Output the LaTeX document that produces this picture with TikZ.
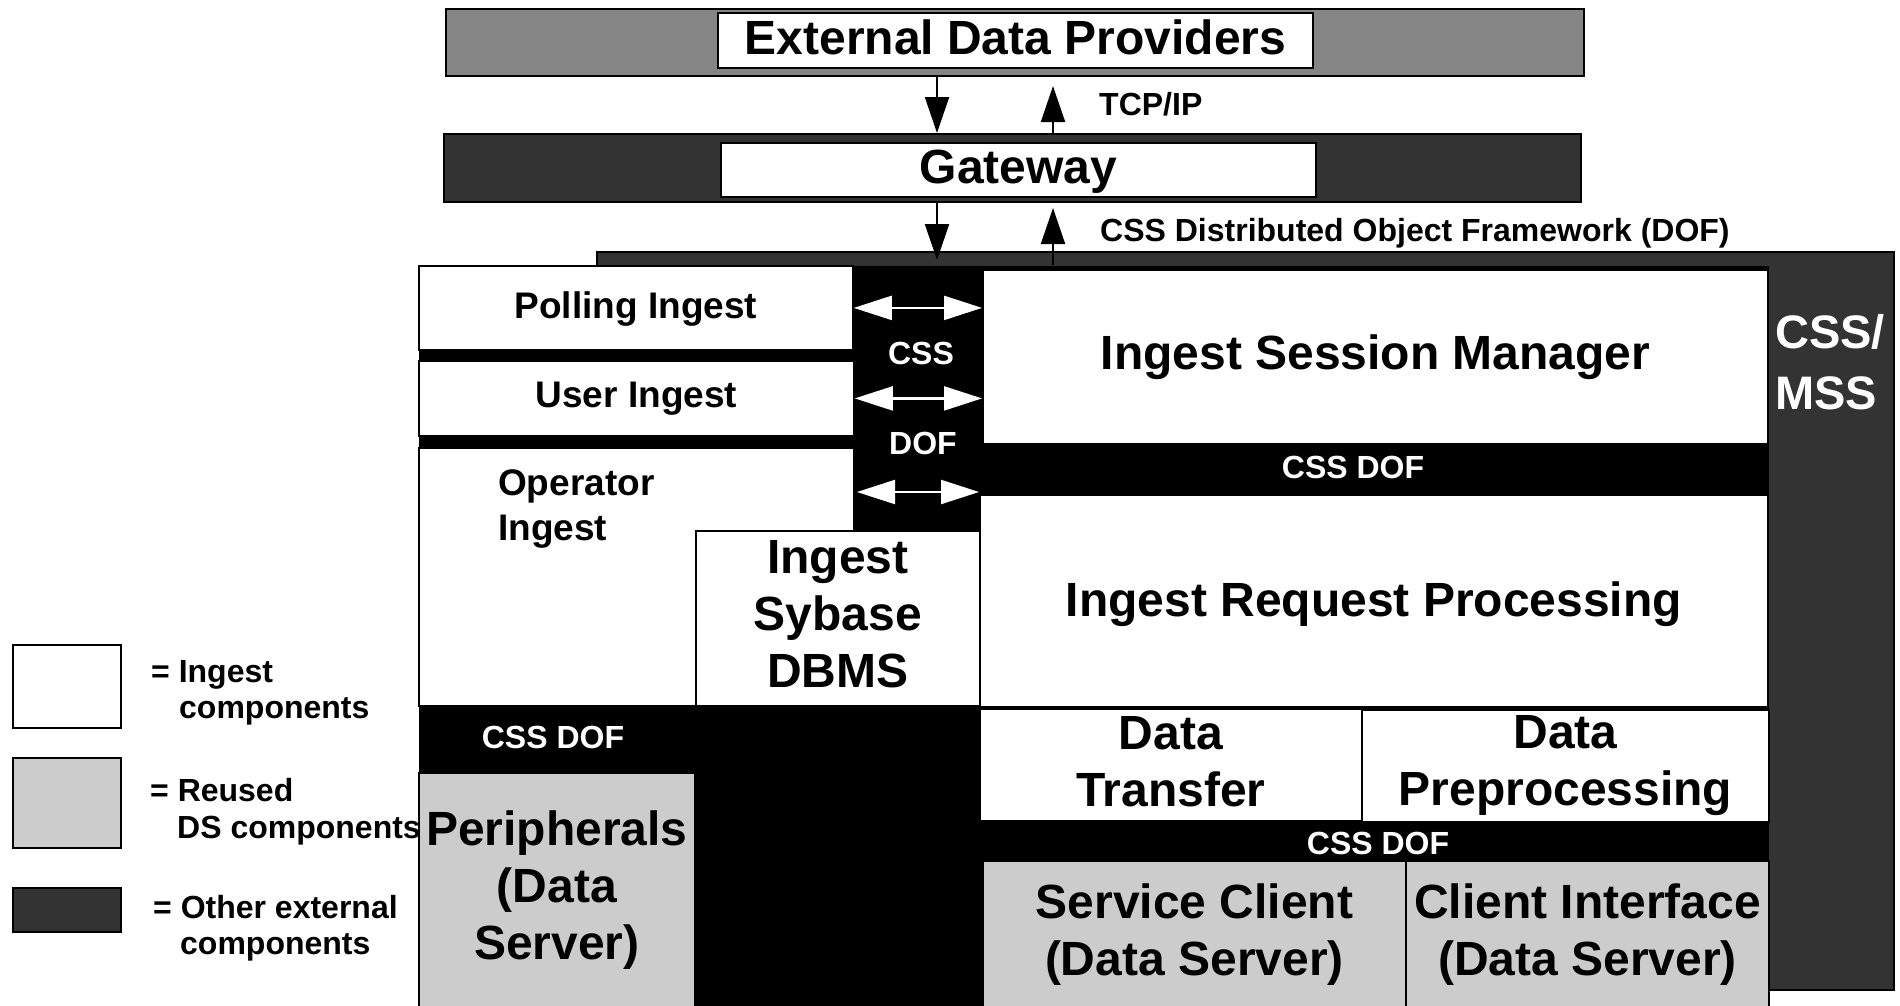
\documentclass[tikz,border=0pt]{standalone}
\usepackage{fontspec}
\setmainfont{Liberation Sans}
\usetikzlibrary{arrows.meta}
\definecolor{provgray}{HTML}{858585}
\definecolor{extdark}{HTML}{333333}
\definecolor{reusegray}{HTML}{CCCCCC}
\begin{document}
\begin{tikzpicture}[x=1pt,y=-1pt,
  boxbase/.style={draw=black, line width=1.8pt, inner sep=0pt, anchor=north west, align=center},
  wbox/.style={boxbase, fill=white},
  gbox/.style={boxbase, fill=reusegray},
  dbox/.style={boxbase, fill=extdark},
  fhead/.style={font=\bfseries\fontsize{48}{56}\selectfont},
  fbig/.style={font=\bfseries\fontsize{48}{57}\selectfont},
  fmid/.style={font=\bfseries\fontsize{37}{45}\selectfont},
  fsmall/.style={font=\bfseries\fontsize{32}{37}\selectfont},
  flegend/.style={font=\bfseries\fontsize{32}{36}\selectfont},
  fside/.style={font=\bfseries\fontsize{47}{60}\selectfont},
  lbl/.style={inner sep=0pt, align=center},
  blkarrow/.style={draw=black, line width=2pt, -{Triangle[length=36pt,width=24pt]}},
  wharrow/.style={draw=white, line width=2.2pt,
    {Triangle[length=38pt,width=24pt,fill=white]}-{Triangle[length=38pt,width=24pt,fill=white]}},
]
\useasboundingbox (0,0) rectangle (1900,1005);
\fill[white] (0,0) rectangle (1900,1005);

% external data providers and gateway layers
\node[boxbase, fill=provgray, minimum width=1138pt, minimum height=67pt] (provbar) at (445,8) {};
\node[wbox, minimum width=595pt, minimum height=55pt] (edp) at (717,12) {};
\node[lbl, fhead, yshift=3.5pt] (edpt) at (edp.center) {External Data Providers};
\node[dbox, minimum width=1137pt, minimum height=68pt] (gwbar) at (443,133) {};
\node[wbox, minimum width=595pt, minimum height=54pt] (gw) at (720,142) {};
\node[lbl, fhead, yshift=-1.5pt] (gwt) at (gw.center) {Gateway};

% CSS/MSS layer behind the ingest subsystem
\node[dbox, minimum width=1297pt, minimum height=738pt] (panel) at (596,251) {};
\node[lbl, fside, text=white, anchor=base west] (sidea) at (1775,348) {CSS/};
\node[lbl, fside, text=white, anchor=base west] (sideb) at (1775,409) {MSS};

% CSS DOF backbone
\node[boxbase, draw=none, fill=black, minimum width=1350pt, minimum height=745pt] (dof) at (418,265) {};

% ingest components
\node[wbox, minimum width=434pt, minimum height=84pt] (poll) at (418,265) {};
\node[lbl, fmid, yshift=-1.5pt] (pollt) at (poll.center) {Polling Ingest};
\node[wbox, minimum width=435pt, minimum height=75pt] (user) at (418,360) {};
\node[lbl, fmid] (usert) at (user.center) {User Ingest};
\node[wbox, minimum width=435pt, minimum height=258pt] (oper) at (418,447) {};
\node[lbl, fmid, anchor=base west] (opla) at (498,495) {Operator};
\node[lbl, fmid, anchor=base west] (oplb) at (498,540) {Ingest};
\node[wbox, minimum width=284pt, minimum height=175pt] (dbms) at (695,530) {};
\node[lbl, fbig, yshift=4.5pt] (dbmst) at (dbms.center) {Ingest\\Sybase\\DBMS};
\node[wbox, minimum width=785pt, minimum height=174pt] (ism) at (982,269) {};
\node[lbl, fbig] (ismt) at (ism.center) {Ingest Session Manager};
\node[wbox, minimum width=788pt, minimum height=212pt] (irp) at (979,494) {};
\node[lbl, fbig, yshift=-3.5pt] (irpt) at (irp.center) {Ingest Request Processing};
\node[wbox, minimum width=382pt, minimum height=112pt] (xfer) at (979,708) {};
\node[lbl, fbig, yshift=3.5pt] (xfert) at (xfer.center) {Data\\Transfer};
\node[wbox, minimum width=407pt, minimum height=112pt] (prep) at (1361,709) {};
\node[lbl, fbig] (prept) at (prep.center) {Data\\Preprocessing};

% reused data server components
\node[gbox, minimum width=423pt, minimum height=147pt] (svc) at (982,860) {};
\node[lbl, fbig] (svct) at (svc.center) {Service Client\\(Data Server)};
\node[gbox, minimum width=363pt, minimum height=147pt] (cli) at (1405,860) {};
\node[lbl, fbig] (clit) at (cli.center) {Client Interface\\(Data Server)};
\node[gbox, minimum width=276pt, minimum height=235pt] (peri) at (418,772) {};
\node[lbl, fbig] (perit) at (peri.center) {Peripherals\\(Data\\Server)};

% labels on the black backbone
\node[lbl, fsmall, text=white] (csscol) at (921,353) {CSS};
\node[lbl, fsmall, text=white] (dofcol) at (923,443) {DOF};
\node[lbl, fsmall, text=white] (dofa) at (1353,467) {CSS DOF};
\node[lbl, fsmall, text=white] (dofb) at (1378,843) {CSS DOF};
\node[lbl, fsmall, text=white] (dofc) at (553,737) {CSS DOF};

% CSS DOF links between ingest components
\coordinate (linkc) at (857,492);
\draw[wharrow] (poll.east) -- (poll.east -| ism.west);
\draw[wharrow] (user.east) -- (user.east -| ism.west);
\draw[wharrow] (linkc) -- (linkc -| irp.west);

% TCP/IP and DOF links through the gateway
\coordinate (dnx) at (937,0);
\coordinate (upx) at (1053,0);
\coordinate (uptipa) at (1053,86);
\coordinate (dntipb) at (937,260);
\coordinate (upbase) at (1053,265);
\coordinate (uptipb) at (1053,208);
\draw[blkarrow] (provbar.south -| dnx) -- (gwbar.north -| dnx);
\draw[blkarrow] (gwbar.north -| upx) -- (uptipa);
\draw[blkarrow] (gwbar.south -| dnx) -- (dntipb);
\draw[blkarrow] (upbase) -- (uptipb);
\node[lbl, fsmall, anchor=base west] (tcp) at (1099,115) {TCP/IP};
\node[lbl, fsmall, anchor=base west] (dofname) at (1100,241) {CSS Distributed Object Framework (DOF)};

% legend
\node[wbox, minimum width=108pt, minimum height=83pt] (legw) at (12,644) {};
\node[gbox, minimum width=108pt, minimum height=90pt] (legg) at (12,757) {};
\node[dbox, minimum width=108pt, minimum height=44pt] (legd) at (12,887) {};
\node[lbl, flegend, anchor=base west] (legwa) at (151,682) {= Ingest};
\node[lbl, flegend, anchor=base west] (legwb) at (179,718) {components};
\node[lbl, flegend, anchor=base west] (legga) at (150,801) {= Reused};
\node[lbl, flegend, anchor=base west] (leggb) at (177,838) {DS components};
\node[lbl, flegend, anchor=base west] (legda) at (153,918) {= Other external};
\node[lbl, flegend, anchor=base west] (legdb) at (180,954) {components};
\end{tikzpicture}
\end{document}
